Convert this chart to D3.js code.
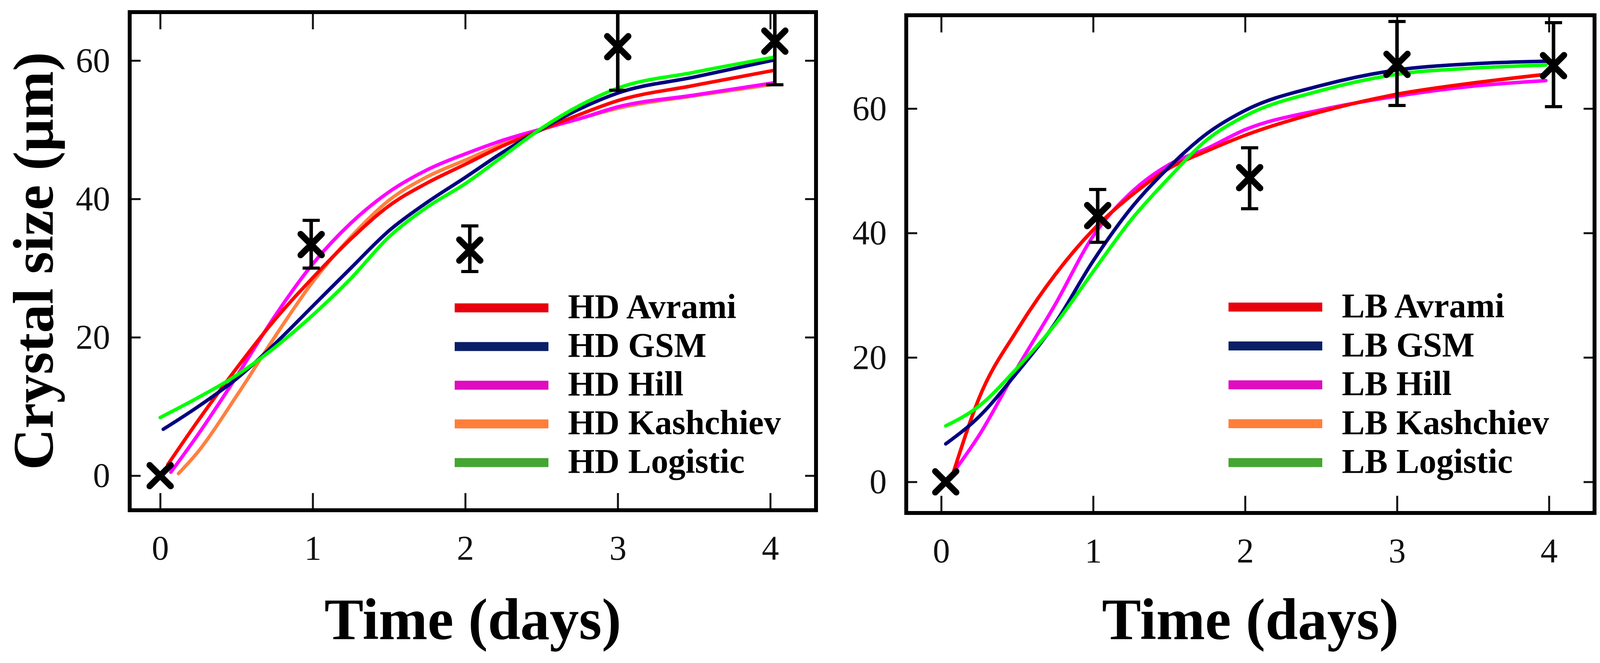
<!DOCTYPE html>
<html>
<head>
<meta charset="utf-8">
<script src="https://cdn.jsdelivr.net/npm/d3@7"></script>
<style>
  body { margin: 0; background: #fff; }
  text { font-family: "Liberation Serif", "Times New Roman", serif; }
</style>
</head>
<body>
<div class="main"></div>
<script>
// ticks
var dayTicks  = [0, 1, 2, 3, 4];
var sizeTicks = [0, 20, 40, 60];

// model names (legend order)
var models = ['Avrami', 'GSM', 'Hill', 'Kashchiev', 'Logistic'];

// HD: measured points with error bars
var hdObsDay  = [0, 0.99, 2.03, 3.0, 4.03];
var hdObsSize = [0, 33.4, 32.6, 62.0, 62.8];
var hdObsLow  = [0, 30.0, 29.5, 55.7, 56.5];
var hdObsHigh = [0, 36.9, 36.1, 68.3, 69.1];

// HD: fitted curves
var hdGrid       = [0.25, 0.5, 0.75, 1, 1.25, 1.5, 1.75, 2, 2.25, 2.5, 2.75, 3, 3.5, 4.03];
var hdStartDay   = [0.05, 0.02, 0.07, 0.12, 0.0];
var hdStartSize  = [1.6, 6.7, 0.5, 0.3, 8.4];
var hdAvrami     = [8, 15.5, 22.5, 28.6, 34.2, 39, 42.3, 45, 47.7, 50, 52.2, 54.2, 56.4, 58.6];
var hdGSM        = [10, 14, 19, 24.5, 30, 35.4, 39.5, 43.1, 46.8, 50.1, 53, 55.3, 57.6, 60.1];
var hdHill       = [6, 14.3, 23, 30.6, 36.5, 41, 44.2, 46.5, 48.5, 50.1, 51.6, 53.3, 55, 56.8];
var hdKashchiev  = [3.5, 11.5, 20, 28, 34.5, 39.8, 43.2, 45.6, 48, 50, 51.6, 53.1, 54.9, 56.6];
var hdLogistic   = [11.3, 14.5, 18.5, 23.2, 28.5, 34.5, 38.8, 42.2, 46.2, 50.2, 53.5, 56, 58.3, 60.5];

// LB: measured points with error bars
var lbObsDay  = [0.03, 1.03, 2.03, 3.0, 4.03];
var lbObsSize = [0, 42.8, 48.9, 67.1, 66.9];
var lbObsLow  = [0, 38.5, 43.9, 60.5, 60.3];
var lbObsHigh = [0, 47.0, 53.7, 74.0, 73.8];

// LB: fitted curves (Kashchiev lies under Avrami)
var lbGrid       = [0.25, 0.5, 0.75, 1, 1.25, 1.5, 1.75, 2, 2.5, 3, 3.5, 3.98];
var lbStartDay   = [0.08, 0.03, 0.08, 0.08, 0.03];
var lbStartSize  = [1.5, 6.1, 1.5, 1.5, 9];
var lbAvrami     = [13.5, 24.4, 33.3, 40.5, 46, 50.4, 53.2, 55.7, 59.5, 62.3, 64.1, 65.5];
var lbGSM        = [10.5, 17.6, 25.5, 35.5, 44, 50.6, 56, 59.7, 63.7, 66.2, 67.2, 67.6];
var lbHill       = [7.5, 18.3, 28.5, 39.5, 46.5, 51, 53.6, 56.6, 59.8, 62, 63.6, 64.5];
var lbKashchiev  = [13.5, 24.4, 33.3, 40.5, 46, 50.4, 53.2, 55.7, 59.5, 62.3, 64.1, 65.5];
var lbLogistic   = [12.2, 18.3, 25.3, 33.8, 42.1, 48.9, 55, 58.8, 62.9, 65.5, 66.5, 67];

// colours: curves in the plot and the legend swatches differ slightly
var lineColors   = ['#ff0000', '#000080', '#ff00ff', '#ff8040', '#00ff00'];
var legendColors = ['#e8000e', '#0a1f66', '#e00cc0', '#ff7f3a', '#45a532'];
var drawOrder    = [3, 2, 0, 1, 4];

var W = 4107, H = 1697;
var svg = d3.select('.main').append('svg')
            .attr('width', W)
            .attr('height', H);

drawPanel({
    id: 'hd', prefix: 'HD',
    left: 332, right: 2089, top: 31, bottom: 1306,
    xDomain: [-0.2, 4.3], yDomain: [-5, 67],
    obs: [hdObsDay, hdObsSize, hdObsLow, hdObsHigh],
    grid: hdGrid, startDay: hdStartDay, startSize: hdStartSize,
    fits: [hdAvrami, hdGSM, hdHill, hdKashchiev, hdLogistic],
    legendX: 1164, legendY: 788, legendStep: 99
});
drawPanel({
    id: 'lb', prefix: 'LB',
    left: 2320, right: 4082, top: 39, bottom: 1313,
    xDomain: [-0.23, 4.3], yDomain: [-5, 75],
    obs: [lbObsDay, lbObsSize, lbObsLow, lbObsHigh],
    grid: lbGrid, startDay: lbStartDay, startSize: lbStartSize,
    fits: [lbAvrami, lbGSM, lbHill, lbKashchiev, lbLogistic],
    legendX: 3145, legendY: 786, legendStep: 99.5
});

// y title only on the left panel
var ytitle = svg.append('text')
    .attr('transform', 'translate(135,668) rotate(-90)')
    .attr('text-anchor', 'middle')
    .attr('font-size', 146)
    .attr('font-weight', 'bold')
    .text('Crystal size (\u03bcm)');
fitWidth(ytitle, 1070);

// scale a title's font so its length matches the reference
function fitWidth(sel, target) {
    var len = sel.node().getComputedTextLength();
    var fs = +sel.attr('font-size');
    if (len > 0) sel.attr('font-size', Math.min(fs * target / len, 170));
}

function drawPanel(p) {
    var x = d3.scaleLinear().domain(p.xDomain).range([p.left, p.right]);
    var y = d3.scaleLinear().domain(p.yDomain).range([p.bottom, p.top]);
    var g = svg.append('g');

    g.append('clipPath').attr('id', 'clip-' + p.id)
        .append('rect')
            .attr('x', p.left).attr('y', p.top)
            .attr('width', p.right - p.left).attr('height', p.bottom - p.top);

    // axes with inward ticks on all four sides
    var bottom = g.append('g')
        .attr('transform', 'translate(0,' + p.bottom + ')')
        .call(d3.axisBottom(x).tickValues(dayTicks).tickSizeInner(-44).tickSizeOuter(0).tickFormat(d3.format('d')));
    bottom.selectAll('text').attr('y', 126).attr('dy', null);
    var top = g.append('g')
        .attr('transform', 'translate(0,' + p.top + ')')
        .call(d3.axisTop(x).tickValues(dayTicks).tickSizeInner(-44).tickSizeOuter(0).tickFormat(''));
    var left = g.append('g')
        .attr('transform', 'translate(' + p.left + ',0)')
        .call(d3.axisLeft(y).tickValues(sizeTicks).tickSizeInner(-28).tickSizeOuter(0).tickPadding(50).tickFormat(d3.format('d')));
    var right = g.append('g')
        .attr('transform', 'translate(' + p.right + ',0)')
        .call(d3.axisRight(y).tickValues(sizeTicks).tickSizeInner(-28).tickSizeOuter(0).tickFormat(''));

    [bottom, top, left, right].forEach(function(a) {
        a.select('.domain').remove();
        a.selectAll('line').attr('stroke', '#111').attr('stroke-width', 5);
        a.selectAll('text')
            .attr('font-family', '"Liberation Serif", "Times New Roman", serif')
            .attr('font-size', 88)
            .attr('fill', '#111');
    });

    // fitted curves
    var line = d3.line()
        .x(d => x(d[0]))
        .y(d => y(d[1]))
        .curve(d3.curveMonotoneX);

    var curves = g.append('g').attr('clip-path', 'url(#clip-' + p.id + ')');
    drawOrder.forEach(function(i) {
        var pts = [[p.startDay[i], p.startSize[i]]];
        p.grid.forEach(function(t, j) { pts.push([t, p.fits[i][j]]); });
        curves.append('path')
            .attr('d', line(pts))
            .attr('fill', 'none')
            .attr('stroke', lineColors[i])
            .attr('stroke-width', 9)
            .attr('stroke-linecap', 'round');
    });

    // measured points
    var obs = p.obs[0].map(function(d, i) {
        return { t: d, v: p.obs[1][i], lo: p.obs[2][i], hi: p.obs[3][i] };
    });
    var marks = g.append('g').attr('clip-path', 'url(#clip-' + p.id + ')');
    var bars = obs.filter(d => d.hi > d.lo);
    marks.selectAll('.bar').data(bars).enter().append('line')
        .attr('x1', d => x(d.t)).attr('x2', d => x(d.t))
        .attr('y1', d => y(d.lo)).attr('y2', d => y(d.hi))
        .attr('stroke', '#000').attr('stroke-width', 9);
    ['lo', 'hi'].forEach(function(k) {
        marks.selectAll('.cap-' + k).data(bars).enter().append('line')
            .attr('x1', d => x(d.t) - 22).attr('x2', d => x(d.t) + 22)
            .attr('y1', d => y(d[k])).attr('y2', d => y(d[k]))
            .attr('stroke', '#000').attr('stroke-width', 8);
    });
    var s = 27;
    obs.forEach(function(d) {
        var cx = x(d.t), cy = y(d.v);
        marks.append('path')
            .attr('d', 'M' + (cx - s) + ',' + (cy - s) + 'L' + (cx + s) + ',' + (cy + s) +
                       'M' + (cx - s) + ',' + (cy + s) + 'L' + (cx + s) + ',' + (cy - s))
            .attr('stroke', '#000')
            .attr('stroke-width', 16)
            .attr('stroke-linecap', 'round');
    });

    // frame
    g.append('rect')
        .attr('x', p.left).attr('y', p.top)
        .attr('width', p.right - p.left).attr('height', p.bottom - p.top)
        .attr('fill', 'none')
        .attr('stroke', '#000')
        .attr('stroke-width', 10);

    // legend
    var leg = g.append('g');
    models.forEach(function(m, i) {
        var ly = p.legendY + i * p.legendStep;
        leg.append('line')
            .attr('x1', p.legendX).attr('x2', p.legendX + 240)
            .attr('y1', ly).attr('y2', ly)
            .attr('stroke', legendColors[i])
            .attr('stroke-width', 23);
        leg.append('text')
            .attr('x', p.legendX + 290)
            .attr('y', ly + 26)
            .attr('font-size', 88)
            .attr('font-weight', 'bold')
            .text(p.prefix + ' ' + m);
    });

    // x title
    var xt = svg.append('text')
        .attr('x', (p.left + p.right) / 2)
        .attr('y', 1636)
        .attr('text-anchor', 'middle')
        .attr('font-size', 148)
        .attr('font-weight', 'bold')
        .text('Time (days)');
    fitWidth(xt, 760);
}
</script>
</body>
</html>
